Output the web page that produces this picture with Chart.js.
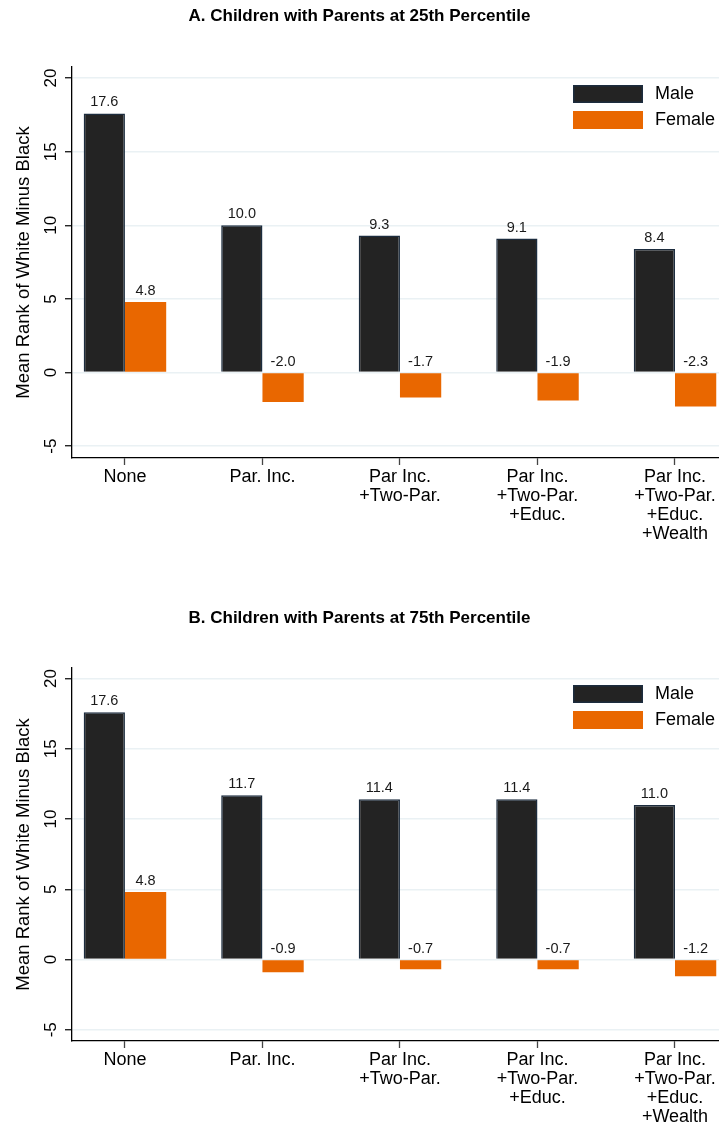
<!DOCTYPE html>
<html lang="en">
<head>
  <meta charset="UTF-8">
  <title>Mean Rank of White Minus Black</title>
  <style>
    body {
      margin: 0;
      background: #ffffff;
    }

    .panel {
      position: relative;
      width: 719px;
      height: 600px;
    }
  </style>
</head>
<body>
  <div class="panel"><canvas id="chartA"></canvas></div>
  <div class="panel"><canvas id="chartB"></canvas></div>

  <script src="https://cdn.jsdelivr.net/npm/chart.js"></script>
  <script>
    // data
    const categories = [
      ['None'],
      ['Par. Inc.'],
      ['Par Inc.', '+Two-Par.'],
      ['Par Inc.', '+Two-Par.', '+Educ.'],
      ['Par Inc.', '+Two-Par.', '+Educ.', '+Wealth']
    ];
    const seriesNames = ['Male', 'Female'];
    const maleP25 = [17.6, 10.0, 9.3, 9.1, 8.4];
    const femaleP25 = [4.8, -2.0, -1.7, -1.9, -2.3];
    const maleP75 = [17.6, 11.7, 11.4, 11.4, 11.0];
    const femaleP75 = [4.8, -0.9, -0.7, -0.7, -1.2];
    const yTicks = [-5, 0, 5, 10, 15, 20];
    const titleA = 'A. Children with Parents at 25th Percentile';
    const titleB = 'B. Children with Parents at 75th Percentile';
    const yTitle = 'Mean Rank of White Minus Black';

    Chart.defaults.font.family = "'Liberation Sans', Arial, Helvetica, sans-serif";
    Chart.defaults.color = '#000000';

    const MALE_FILL = '#232323';
    const MALE_EDGE = '#1c2c3e';
    const FEMALE_FILL = '#e96700';

    // value labels above each bar (above zero line for negatives)
    const valueLabels = {
      id: 'valueLabels',
      afterDatasetsDraw(chart) {
        const ctx = chart.ctx;
        const y = chart.scales.y;
        ctx.save();
        ctx.font = "14.5px 'Liberation Sans', Arial, sans-serif";
        ctx.fillStyle = '#1a1a1a';
        ctx.textAlign = 'center';
        ctx.textBaseline = 'middle';
        chart.data.datasets.forEach((ds, di) => {
          const meta = chart.getDatasetMeta(di);
          meta.data.forEach((bar, i) => {
            const v = ds.data[i].y;
            const top = y.getPixelForValue(Math.max(v, 0));
            ctx.fillText(v.toFixed(1), bar.x, top - 11);
          });
        });
        ctx.restore();
      }
    };

    // legend box in the upper right of the plot region
    const insideLegend = {
      id: 'insideLegend',
      afterDraw(chart) {
        const ctx = chart.ctx;
        const area = chart.chartArea;
        let top = area.top + chart.options.plugins.insideLegend.offsetY;
        const left = 573;
        ctx.save();
        ctx.font = "18px 'Liberation Sans', Arial, sans-serif";
        ctx.textBaseline = 'middle';
        ctx.textAlign = 'left';
        chart.data.datasets.forEach(ds => {
          ctx.fillStyle = ds.backgroundColor;
          ctx.fillRect(left, top, 70, 18);
          if (ds.borderWidth) {
            ctx.strokeStyle = ds.borderColor;
            ctx.lineWidth = 1.5;
            ctx.strokeRect(left + 0.75, top + 0.75, 68.5, 16.5);
          }
          ctx.fillStyle = '#000000';
          ctx.fillText(ds.label, 655, top + 9.5);
          top += 26;
        });
        ctx.restore();
      }
    };

    function makeChart(id, title, male, female, layout) {
      const ctx = document.getElementById(id).getContext('2d');
      return new Chart(ctx, {
        type: 'bar',
        data: {
          datasets: [
            {
              label: seriesNames[0],
              data: male.map((v, i) => ({ x: i, y: v })),
              backgroundColor: MALE_FILL,
              borderColor: MALE_EDGE,
              borderWidth: 1.5
            },
            {
              label: seriesNames[1],
              data: female.map((v, i) => ({ x: i, y: v })),
              backgroundColor: FEMALE_FILL,
              borderColor: FEMALE_FILL,
              borderWidth: 0
            }
          ]
        },
        options: {
          responsive: true,
          maintainAspectRatio: false,
          animation: false,
          categoryPercentage: 0.6,
          barPercentage: 1.0,
          layout: { padding: 0 },
          plugins: {
            legend: { display: false },
            tooltip: { enabled: false },
            title: {
              display: true,
              text: title,
              font: { size: 17, weight: 'bold' },
              color: '#000000',
              padding: { top: layout.titleTop, bottom: layout.titleBottom }
            },
            insideLegend: { offsetY: layout.legendY }
          },
          scales: {
            x: {
              type: 'linear',
              offset: false,
              min: -0.385,
              max: 4.32,
              afterBuildTicks(scale) {
                scale.ticks = categories.map((c, i) => ({ value: i }));
              },
              afterFit(scale) {
                scale.height = layout.xHeight;
              },
              ticks: {
                callback: (v) => categories[v],
                font: { size: 18, lineHeight: 1.06 },
                color: '#000000',
                padding: 2,
                maxRotation: 0,
                minRotation: 0,
                autoSkip: false
              },
              grid: {
                offset: false,
                drawOnChartArea: false,
                drawTicks: true,
                tickLength: 7,
                tickColor: '#444444',
                tickWidth: 1.3
              },
              border: { display: true, color: '#000000', width: 1.3 }
            },
            y: {
              min: -5.8,
              max: 20.75,
              afterBuildTicks(scale) {
                scale.ticks = yTicks.map(v => ({ value: v }));
              },
              afterFit(scale) {
                scale.width = 72;
              },
              ticks: {
                font: { size: 17 },
                color: '#000000',
                minRotation: 90,
                maxRotation: 90,
                crossAlign: 'center',
                padding: 4
              },
              grid: {
                color: '#eaf1f4',
                lineWidth: 1.5,
                tickColor: '#000000',
                tickLength: 7,
                tickWidth: 1.2
              },
              border: { display: true, color: '#000000', width: 1.3 },
              title: {
                display: true,
                text: yTitle,
                font: { size: 18.5 },
                color: '#000000',
                padding: { top: 13, bottom: 0 }
              }
            }
          }
        },
        plugins: [valueLabels, insideLegend]
      });
    }

    makeChart('chartA', titleA, maleP25, femaleP25,
      { titleTop: 6, titleBottom: 40.6, xHeight: 142, legendY: 18 });
    makeChart('chartB', titleB, maleP75, femaleP75,
      { titleTop: 8, titleBottom: 39.6, xHeight: 159, legendY: 17 });
  </script>
</body>
</html>
